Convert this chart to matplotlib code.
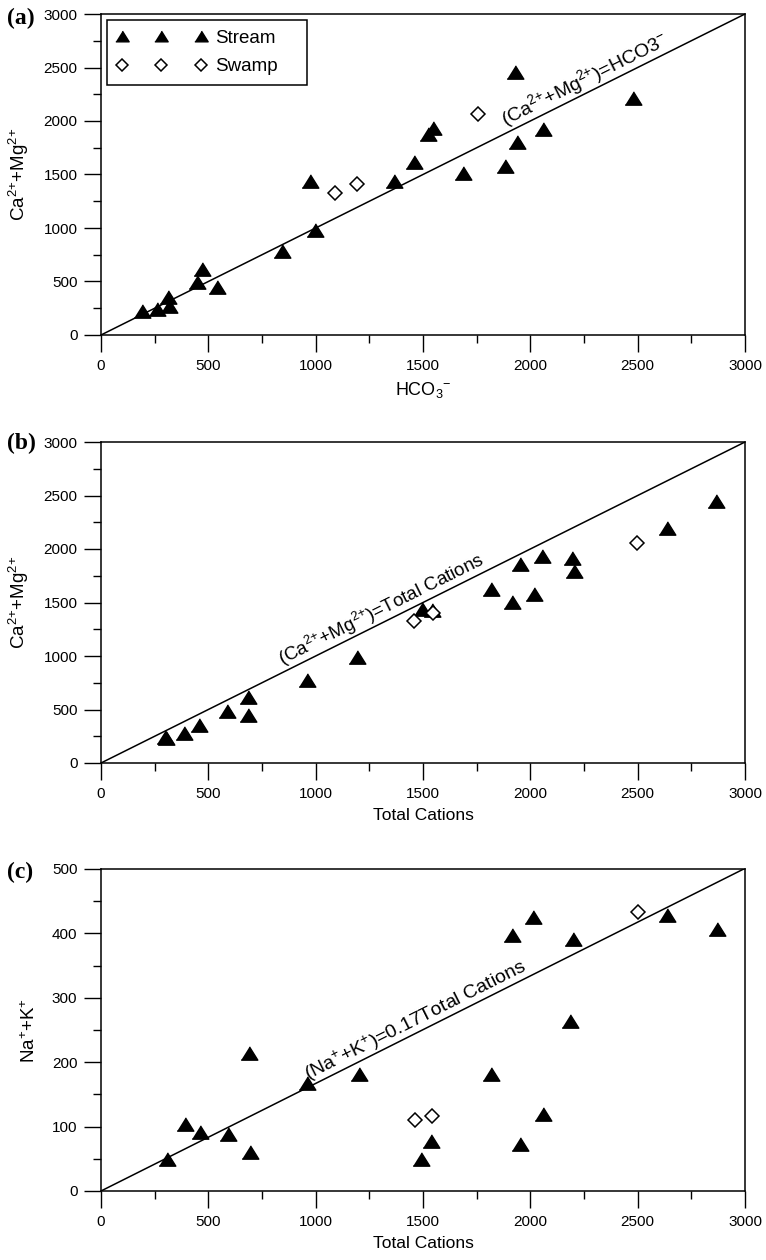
import numpy as np
import matplotlib
matplotlib.use("Agg")
import matplotlib.pyplot as plt
from matplotlib.ticker import MultipleLocator

plt.rcParams["font.family"] = ["Liberation Sans", "DejaVu Sans"]
plt.rcParams["mathtext.fontset"] = "custom"
plt.rcParams["mathtext.rm"] = "Liberation Sans"
plt.rcParams["mathtext.it"] = "Liberation Sans:italic"
plt.rcParams["mathtext.bf"] = "Liberation Sans:bold"

# panel (a): Ca2+ + Mg2+ vs HCO3-
hco3_stream = [190, 259, 317, 313, 539, 446, 469, 842, 997, 973, 1366, 1688, 1882, 1459, 1936, 1525, 2060, 1548, 2479, 1928]
camg_stream_a = [225, 241, 272, 353, 447, 494, 619, 781, 984, 1437, 1442, 1515, 1578, 1620, 1802, 1874, 1921, 1937, 2218, 2455]
hco3_swamp = [1090, 1191, 1757]
camg_swamp_a = [1328, 1415, 2062]

# panel (b): Ca2+ + Mg2+ vs total cations
tc_stream_b = [298, 303, 387, 458, 686, 585, 686, 958, 1192, 1540, 1494, 1913, 2018, 1815, 2203, 1951, 2192, 2055, 2635, 2867]
camg_stream_b = [240, 232, 277, 354, 447, 487, 618, 775, 988, 1432, 1442, 1503, 1582, 1622, 1799, 1861, 1917, 1932, 2197, 2451]
tc_swamp_b = [1458, 1545, 2498]
camg_swamp_b = [1326, 1404, 2053]

# panel (c): Na+ + K+ vs total cations
tc_stream_c = [307, 389, 462, 591, 688, 693, 961, 1202, 1493, 1539, 1819, 1913, 1953, 2013, 2058, 2187, 2199, 2638, 2868]
nak_stream_c = [49, 104, 91, 89, 214, 61, 167, 181, 49, 78, 181, 397, 73, 426, 119, 264, 391, 429, 407]
tc_swamp_c = [1461, 1544, 2502]
nak_swamp_c = [111, 117, 434]

# reference lines (slope of each line)
slope_a = 1.0
slope_b = 1.0
slope_c = 0.167

# flatter triangle, like the original markers
tri = [(-1, -0.8), (1, -0.8), (0, 0.8)]


def setupAxes(ax, ymax, ymajor, yminor):
    ax.set_xlim(0, 3000)
    ax.set_ylim(0, ymax)
    ax.xaxis.set_major_locator(MultipleLocator(500))
    ax.xaxis.set_minor_locator(MultipleLocator(250))
    ax.yaxis.set_major_locator(MultipleLocator(ymajor))
    ax.yaxis.set_minor_locator(MultipleLocator(yminor))
    ax.tick_params(which="both", direction="out", top=False, right=False, width=1, colors="black")
    ax.tick_params(which="major", length=12, labelsize=11, pad=5)
    ax.tick_params(which="minor", length=6)
    for sp in ax.spines.values():
        sp.set_linewidth(1.1)


def drawPoints(ax, xs, ys, xw, yw):
    ax.plot(xs, ys, linestyle="none", marker=tri, markersize=12,
            color="black", label="Stream", clip_on=False, zorder=3)
    ax.plot(xw, yw, linestyle="none", marker="D", markersize=7.5,
            markerfacecolor="white", markeredgecolor="black", markeredgewidth=1.1,
            label="Swamp", clip_on=False, zorder=3)


def drawLine(ax, slope, xtext, label, fs=13):
    ax.plot([0, 3000], [0, 3000 * slope], color="black", linewidth=1.1, zorder=2)
    ang = np.degrees(np.arctan(slope))
    ax.text(xtext, xtext * slope, label, rotation=ang, transform_rotates_text=True,
            rotation_mode="anchor", ha="center", va="bottom", fontsize=fs)


fig = plt.figure(figsize=(7.66, 12.6), dpi=100)
left = 101 / 766
width = 644 / 766
ax_a = fig.add_axes([left, 1 - 335 / 1260, width, 321 / 1260])
ax_b = fig.add_axes([left, 1 - 763 / 1260, width, 321 / 1260])
ax_c = fig.add_axes([left, 1 - 1191 / 1260, width, 322 / 1260])

# (a)
setupAxes(ax_a, 3000, 500, 250)
drawLine(ax_a, slope_a, 2280, r"(Ca$^{2{+}}$+Mg$^{2{+}}$)=HCO3$^{-}$", fs=14)
drawPoints(ax_a, hco3_stream, camg_stream_a, hco3_swamp, camg_swamp_a)
ax_a.set_xlabel(r"HCO$_3$$^{-}$", fontsize=13, labelpad=5)
ax_a.set_ylabel(r"Ca$^{2{+}}$+Mg$^{2{+}}$", fontsize=13.5, labelpad=9)
leg = ax_a.legend(loc="upper left", bbox_to_anchor=(0.0093, 0.6, 0.311, 0.381), mode="expand",
                  borderaxespad=0, numpoints=3, handlelength=4.8, handletextpad=0.45,
                  fontsize=13.5, markerscale=0.8, labelspacing=0.62, borderpad=0.5,
                  fancybox=False, framealpha=1, edgecolor="black")
leg.get_frame().set_linewidth(1.1)

# (b)
setupAxes(ax_b, 3000, 500, 250)
drawLine(ax_b, slope_b, 1330, r"(Ca$^{2{+}}$+Mg$^{2{+}}$)=Total Cations", fs=13.5)
drawPoints(ax_b, tc_stream_b, camg_stream_b, tc_swamp_b, camg_swamp_b)
ax_b.set_xlabel("Total Cations", fontsize=12.5, labelpad=5)
ax_b.set_ylabel(r"Ca$^{2{+}}$+Mg$^{2{+}}$", fontsize=13.5, labelpad=9)

# (c)
setupAxes(ax_c, 500, 100, 50)
drawLine(ax_c, slope_c, 1490, r"(Na$^{+}$+K$^{+}$)=0.17Total Cations", fs=14)
drawPoints(ax_c, tc_stream_c, nak_stream_c, tc_swamp_c, nak_swamp_c)
ax_c.set_xlabel("Total Cations", fontsize=12.5, labelpad=5)
ax_c.set_ylabel(r"Na$^{+}$+K$^{+}$", fontsize=13.5, labelpad=9)

# panel letters
for lab, ypix in [("(a)", 18), ("(b)", 443), ("(c)", 872)]:
    fig.text(7 / 766, 1 - ypix / 1260, lab, fontsize=17, fontweight="bold",
             family="Liberation Serif", ha="left", va="center")

fig.savefig("out.png", dpi=100)
